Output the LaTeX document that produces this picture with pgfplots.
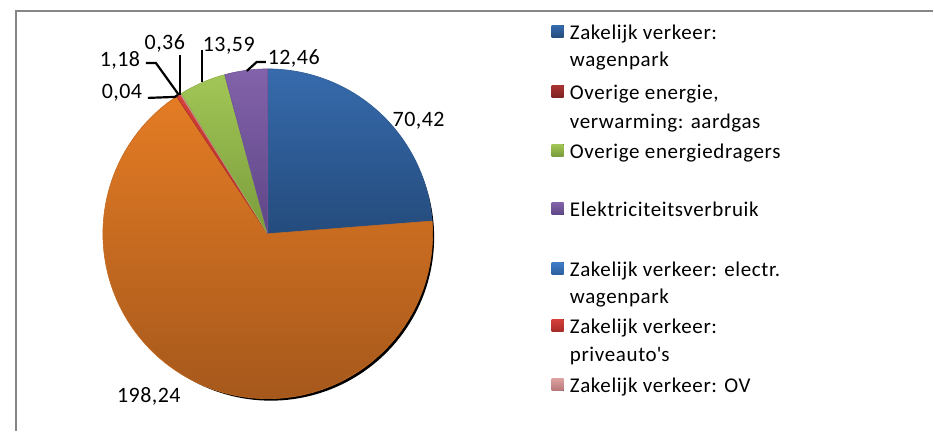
\documentclass[border=0pt]{standalone}
\usepackage{pgfplots}
\usepackage{pgfplotstable}
\pgfplotsset{compat=1.18}
\usepackage{fontspec}
\setmainfont{Carlito}
\newfontfamily\legfont{Carlito}[LetterSpace=3]
\newfontfamily\labfont{Carlito}[LetterSpace=2]

\definecolor{blueT}{RGB}{55,107,173}
\definecolor{blueB}{RGB}{36,75,124}
\definecolor{orangeT}{RGB}{228,124,36}
\definecolor{orangeB}{RGB}{166,88,28}
\definecolor{greenT}{RGB}{162,198,86}
\definecolor{greenB}{RGB}{122,156,60}
\definecolor{purpleT}{RGB}{130,98,170}
\definecolor{purpleB}{RGB}{94,70,134}
\definecolor{dredT}{RGB}{170,52,50}
\definecolor{dredB}{RGB}{125,35,35}
\definecolor{lblueT}{RGB}{64,125,200}
\definecolor{lblueB}{RGB}{44,94,158}
\definecolor{redT}{RGB}{215,64,58}
\definecolor{redB}{RGB}{168,44,40}
\definecolor{pinkT}{RGB}{220,160,160}
\definecolor{pinkB}{RGB}{180,118,118}
\definecolor{framegray}{RGB}{134,134,134}

\pgfplotstableread{
label value
wagenpark 70.42
groot 198.24
klein1 0.04
priveauto 1.18
klein2 0.36
overig 13.59
elektr 12.46
}\piedata

\newcommand\ang[1]{\csname ang#1\endcsname}
\def\cx{268}
\def\cy{234}
\def\R{165}

\begin{document}%
\begin{tikzpicture}
% total and cumulative angles (clockwise from 12 o'clock)
\xdef\Tsum{0}
\foreach \i in {0,...,6}{%
  \pgfplotstablegetelem{\i}{value}\of\piedata
  \pgfmathsetmacro\tmp{\Tsum+\pgfplotsretval}%
  \xdef\Tsum{\tmp}}
\expandafter\xdef\csname ang0\endcsname{90}
\foreach \i in {0,...,6}{%
  \pgfplotstablegetelem{\i}{value}\of\piedata
  \pgfmathsetmacro\tmp{\ang{\i}-\pgfplotsretval/\Tsum*360}%
  \pgfmathtruncatemacro\j{\i+1}%
  \expandafter\xdef\csname ang\j\endcsname{\tmp}}
\begin{axis}[
  scale only axis, width=467pt, height=215.5pt,
  xmin=0, xmax=934, ymin=0, ymax=431, y dir=reverse,
  hide axis, clip=false,
]
\path (axis cs:0,0) rectangle (axis cs:934,431);
% frame
\draw[framegray, line width=0.8pt] (axis cs:16,431) -- (axis cs:16,11) -- (axis cs:934,11);
% shadow
\addplot[fill=black, draw=none, domain=0:360, samples=181]
  ({\cx+3+(\R-1.5)*cos(x)},{\cy+3.5-(\R-1.5)*sin(x)}) -- cycle;
% slices
\newcommand\slice[3]{%
  \addplot[draw=#2!50!#3, line width=0.3pt, line join=round, top color=#2, bottom color=#3, domain=\ang{\the\numexpr#1+1\relax}:\ang{#1}, samples=121]
    ({\cx+\R*cos(x)},{\cy-\R*sin(x)}) -- (axis cs:\cx,\cy) -- cycle;}
\slice{0}{blueT}{blueB}
\slice{1}{orangeT}{orangeB}
\slice{2}{dredT}{dredB}
\slice{3}{redT}{redB}
\slice{4}{pinkT}{pinkB}
\slice{5}{greenT}{greenB}
\slice{6}{purpleT}{purpleB}
% leader lines
\addplot[black, line width=1.1pt, no marks] coordinates {(148,98) (175,97) (178,95)};
\addplot[black, line width=1.1pt, no marks] coordinates {(146,63) (156,63) (179,95)};
\addplot[black, line width=1.1pt, no marks] coordinates {(180,55) (180,95)};
\addplot[black, line width=1.1pt, no marks] coordinates {(202,50) (202,82)};
\addplot[black, line width=1.1pt, no marks] coordinates {(266,62) (257,62) (247,71)};
% data labels
\begin{scope}[every node/.style={anchor=base, inner sep=0pt, font=\labfont\fontsize{11}{12}\selectfont}]
\node at (axis cs:122,99) {0,04};
\node at (axis cs:120,67) {1,18};
\node at (axis cs:165,50) {0,36};
\node at (axis cs:229,52) {13,59};
\node at (axis cs:294,65) {12,46};
\node at (axis cs:419,127) {70,42};
\node at (axis cs:149,403) {198,24};
\end{scope}
% legend
\newcommand\legsq[3]{\fill[top color=#2, bottom color=#3] (axis cs:552,{#1-14}) rectangle (axis cs:564,{#1-2});}
\begin{scope}[every node/.style={anchor=base west, inner sep=0pt, font=\legfont\fontsize{10.5}{14}\selectfont}]
\legsq{39.3}{blueT}{blueB}
\node at (axis cs:570,39.3) {Zakelijk verkeer:};
\node at (axis cs:570,67) {wagenpark};
\legsq{99.3}{dredT}{dredB}
\node at (axis cs:570,99.3) {Overige energie,};
\node at (axis cs:570,128.3) {verwarming: aardgas};
\legsq{158.3}{greenT}{greenB}
\node at (axis cs:570,158.3) {Overige energiedragers};
\legsq{216.7}{purpleT}{purpleB}
\node at (axis cs:570,216.7) {Elektriciteitsverbruik};
\legsq{276.7}{lblueT}{lblueB}
\node at (axis cs:570,276.7) {Zakelijk verkeer: electr.};
\node at (axis cs:570,303.3) {wagenpark};
\legsq{333.3}{redT}{redB}
\node at (axis cs:570,333.3) {Zakelijk verkeer:};
\node at (axis cs:570,361.7) {priveauto\textquotesingle s};
\legsq{393.3}{pinkT}{pinkB}
\node at (axis cs:570,393.3) {Zakelijk verkeer: OV};
\end{scope}
\end{axis}
\end{tikzpicture}%
\end{document}
